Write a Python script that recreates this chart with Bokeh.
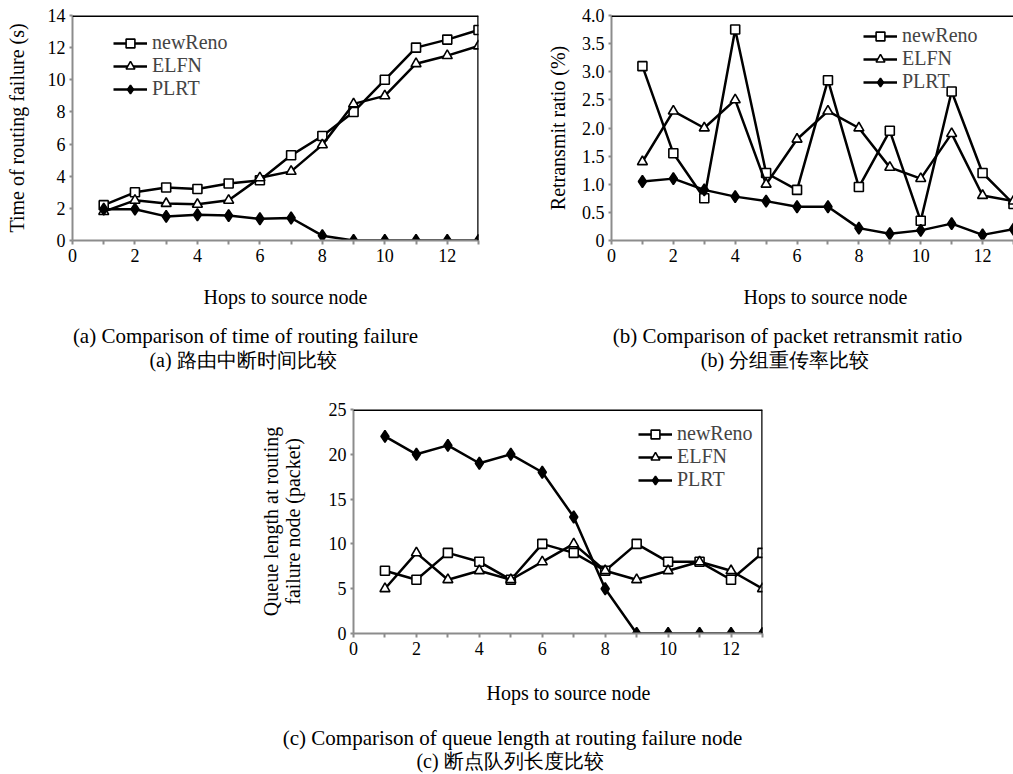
from bokeh.plotting import figure
from bokeh.models import FixedTicker, Legend, LegendItem, Span, Spacer, Range1d
from bokeh.layouts import column, row
from bokeh.embed import file_html
from bokeh.resources import INLINE
from bokeh.core.properties import value

# ---------------- data ----------------
hops = [1, 2, 3, 4, 5, 6, 7, 8, 9, 10, 11, 12, 13]
series_names = ["newReno", "ELFN", "PLRT"]

# (a) time of routing failure (s)
a_newreno = [2.2, 3.0, 3.3, 3.2, 3.55, 3.75, 5.3, 6.5, 8.0, 10.0, 12.0, 12.5, 13.1]
a_elfn = [1.8, 2.5, 2.3, 2.25, 2.5, 3.9, 4.3, 5.95, 8.5, 9.0, 11.0, 11.5, 12.1]
a_plrt = [1.95, 1.95, 1.5, 1.6, 1.55, 1.35, 1.4, 0.3, 0.0, 0.0, 0.0, 0.0, 0.0]

# (b) packet retransmit ratio (%)
b_newreno = [3.1, 1.55, 0.75, 3.75, 1.2, 0.9, 2.85, 0.95, 1.95, 0.35, 2.65, 1.2, 0.65]
b_elfn = [1.4, 2.3, 2.0, 2.5, 1.0, 1.8, 2.3, 2.0, 1.3, 1.1, 1.9, 0.8, 0.7]
b_plrt = [1.05, 1.1, 0.9, 0.78, 0.7, 0.6, 0.6, 0.22, 0.12, 0.18, 0.3, 0.1, 0.2]

# (c) queue length at routing failure node (packet)
c_newreno = [7, 6, 9, 8, 6, 10, 9, 7, 10, 8, 8, 6, 9]
c_elfn = [5, 9, 6, 7, 6, 8, 10, 7, 6, 7, 8, 7, 5]
c_plrt = [22, 20, 21, 19, 20, 18, 13, 5, 0, 0, 0, 0, 0]

x_ticks = [0, 2, 4, 6, 8, 10, 12]
x_minor_ticks = [1, 3, 5, 7, 9, 11, 13]
a_yticks = [0, 2, 4, 6, 8, 10, 12, 14]
b_yticks = [0, 0.5, 1.0, 1.5, 2.0, 2.5, 3.0, 3.5, 4.0]
b_ytick_labels = ["0", "0.5", "1.0", "1.5", "2.0", "2.5", "3.0", "3.5", "4.0"]
c_yticks = [0, 5, 10, 15, 20, 25]

x_title = "Hops to source node"
a_ytitle = "Time of routing failure (s)"
b_ytitle = "Retransmit ratio (%)"
c_ytitle = "Queue length at routing\nfailure node (packet)"
a_caption_en = "(a) Comparison of time of routing failure"
a_caption_zh = "(a)  路由中断时间比较"
b_caption_en = "(b) Comparison of packet retransmit ratio"
b_caption_zh = "(b)  分组重传率比较"
c_caption_en = "(c) Comparison of queue length at routing failure node"
c_caption_zh = "(c)  断点队列长度比较"

SERIF = "Liberation Serif"
GRAY = "#8c8c8c"


def make_panel(width, height, bl, br, bt, bb, xmax, ymax, yticks, ytitle,
               ylab_standoff, series, legend_xy, right_border=True,
               ytick_labels=None):
    p = figure(width=width, height=height, x_range=(0, xmax), y_range=(0, ymax),
               output_backend="svg", toolbar_location=None,
               min_border_left=bl, min_border_right=br, min_border_top=bt,
               min_border_bottom=bb, frame_align=False)
    p.outline_line_color = None
    p.background_fill_color = "white"
    p.border_fill_color = "white"
    p.xgrid.visible = False
    p.ygrid.visible = False

    xa = p.xaxis[0]
    xa.ticker = FixedTicker(ticks=x_ticks, minor_ticks=x_minor_ticks)
    ya = p.yaxis[0]
    ya.ticker = FixedTicker(ticks=yticks)
    if ytick_labels is not None:
        ya.major_label_overrides = {t: l for t, l in zip(yticks, ytick_labels)}
    for ax in (xa, ya):
        ax.axis_line_color = GRAY
        ax.axis_line_width = 2
        ax.major_tick_line_color = GRAY
        ax.major_tick_line_width = 2
        ax.minor_tick_line_color = GRAY
        ax.minor_tick_line_width = 2
        ax.major_tick_in = 0
        ax.minor_tick_in = 0
        ax.major_label_text_font = SERIF
        ax.major_label_text_font_size = "18px"
        ax.major_label_text_color = "black"
        ax.axis_label_text_font = SERIF
        ax.axis_label_text_font_size = "20px"
        ax.axis_label_text_font_style = "normal"
        ax.axis_label_text_color = "black"
    xa.major_tick_out = 4
    xa.minor_tick_out = 4
    xa.major_label_standoff = 4
    ya.major_tick_out = 3
    ya.minor_tick_out = 0
    ya.major_label_standoff = 4
    ya.axis_label = ytitle
    ya.axis_label_standoff = ylab_standoff
    ya.axis_label_text_line_height = 1.0

    items = []
    for name, vals, marker, fill, msize in series:
        lr = p.line(hops, vals, line_color="black", line_width=2.5)
        sr = p.scatter(hops, vals, marker=marker, size=msize, line_color="black",
                       line_width=1.6, fill_color=fill)
        items.append(LegendItem(label=name, renderers=[lr, sr]))
    leg = Legend(items=items, location=legend_xy, padding=0, margin=0,
                 spacing=0, glyph_width=34, glyph_height=22, label_height=22,
                 label_standoff=5, label_text_font=SERIF,
                 label_text_font_size="20px", border_line_color=None,
                 background_fill_alpha=0)
    p.add_layout(leg)

    p.add_layout(Span(location=ymax, dimension="width", line_color="black",
                      line_width=3))
    if right_border:
        p.add_layout(Span(location=xmax, dimension="height", line_color="black",
                          line_width=2.5))
    return p


def caption_fig(width, height, entries):
    f = figure(width=width, height=height, x_range=Range1d(0, width),
               y_range=Range1d(height, 0), output_backend="svg",
               toolbar_location=None, x_axis_location=None, y_axis_location=None,
               min_border=0, min_border_left=0, min_border_right=0,
               min_border_top=0, min_border_bottom=0, frame_align=False)
    f.outline_line_color = None
    f.xgrid.visible = False
    f.ygrid.visible = False
    for txt, x, y, size in entries:
        f.text(x=[x], y=[y], text=[txt], text_font=value(SERIF),
               text_font_size=value(size), text_align="center",
               text_baseline="middle", text_color="black")
    return f


series_a = [(series_names[0], a_newreno, "square", "white", 9),
            (series_names[1], a_elfn, "triangle", "white", 10),
            (series_names[2], a_plrt, "diamond", "black", 12)]
series_b = [(series_names[0], b_newreno, "square", "white", 9),
            (series_names[1], b_elfn, "triangle", "white", 10),
            (series_names[2], b_plrt, "diamond", "black", 12)]
series_c = [(series_names[0], c_newreno, "square", "white", 9),
            (series_names[1], c_elfn, "triangle", "white", 10),
            (series_names[2], c_plrt, "diamond", "black", 12)]

pa = make_panel(540, 272, 72, 62, 15, 32, 13, 14, a_yticks, a_ytitle, 17,
                series_a, (41, 140))
ca = caption_fig(540, 112, [(x_title, 285, 24, "20px"),
                            (a_caption_en, 245, 63, "21px"),
                            (a_caption_zh, 245, 87, "20px")])
pb = make_panel(473, 272, 71, 0, 15, 32, 13, 4.0, b_yticks, b_ytitle, 10,
                series_b, (252, 147), right_border=False,
                ytick_labels=b_ytick_labels)
cb = caption_fig(473, 112, [(x_title, 285, 24, "20px"),
                            (b_caption_en, 247, 63, "21px"),
                            (b_caption_zh, 247, 87, "20px")])
pc = make_panel(552, 279, 113, 30, 25, 30, 13, 25, c_yticks, c_ytitle, 22,
                series_c, (285, 142))
cc = caption_fig(552, 111, [(x_title, 328, 29, "20px"),
                            (c_caption_en, 272, 74, "21px"),
                            (c_caption_zh, 272, 97, "20px")])

layout = column(row(column(pa, ca), column(pb, cb)),
                row(Spacer(width=240, height=10), column(pc, cc)))
open("out.html", "w").write(file_html(layout, INLINE))
